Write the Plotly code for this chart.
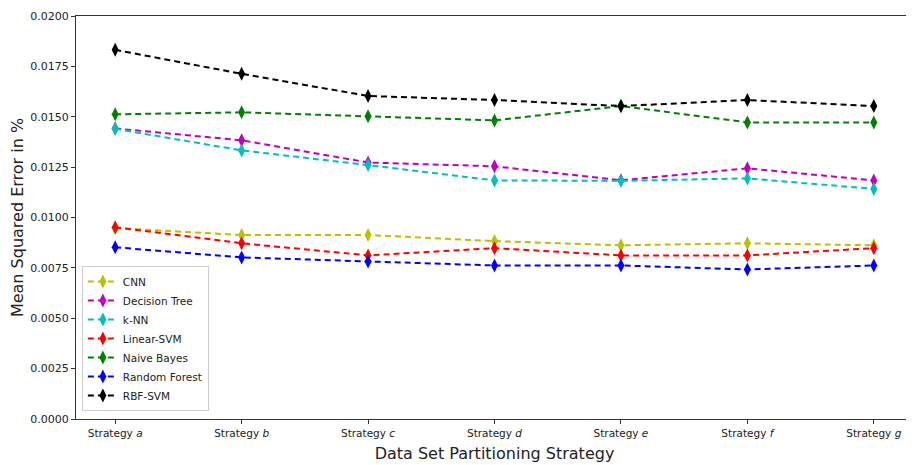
import plotly.graph_objects as go

categories = ["Strategy <i>a</i>", "Strategy <i>b</i>", "Strategy <i>c</i>", "Strategy <i>d</i>",
              "Strategy <i>e</i>", "Strategy <i>f</i>", "Strategy <i>g</i>"]

cnn = [0.00948, 0.00913, 0.00913, 0.00883, 0.00862, 0.00872, 0.00862]
decision_tree = [0.01442, 0.01383, 0.01273, 0.01254, 0.01185, 0.01244, 0.01184]
knn = [0.01440, 0.01333, 0.01260, 0.01184, 0.01182, 0.01194, 0.01142]
linear_svm = [0.00952, 0.00872, 0.00812, 0.00848, 0.00812, 0.00812, 0.00848]
naive_bayes = [0.01512, 0.01522, 0.01502, 0.01482, 0.01553, 0.01472, 0.01472]
random_forest = [0.00852, 0.00802, 0.00782, 0.00762, 0.00762, 0.00742, 0.00762]
rbf_svm = [0.01832, 0.01713, 0.01603, 0.01583, 0.01553, 0.01583, 0.01553]

series = [
    ("CNN", cnn, "#bfbf00"),
    ("Decision Tree", decision_tree, "#bf00bf"),
    ("k-NN", knn, "#00bfbf"),
    ("Linear-SVM", linear_svm, "#ff0000"),
    ("Naive Bayes", naive_bayes, "#008000"),
    ("Random Forest", random_forest, "#0000ff"),
    ("RBF-SVM", rbf_svm, "#000000"),
]

y_ticks = [0.0, 0.0025, 0.005, 0.0075, 0.01, 0.0125, 0.015, 0.0175, 0.02]

fig = go.Figure()
x_idx = list(range(len(categories)))
for name, vals, col in series:
    fig.add_trace(go.Scatter(
        x=x_idx, y=vals, name=name, mode="lines+markers",
        line=dict(color=col, width=2, dash="6px,4px"),
        marker=dict(symbol="diamond-tall", size=10, color=col),
    ))

font = "DejaVu Sans, sans-serif"
# page body has an 8px margin; figure is sized/offset to compensate
fig.update_layout(
    width=906, height=457,
    margin=dict(l=68, r=1, t=8, b=46),
    plot_bgcolor="white", paper_bgcolor="white",
    font=dict(family=font, size=11, color="#222"),
    showlegend=True,
    legend=dict(x=0.007, y=0.02, xanchor="left", yanchor="bottom",
                bgcolor="rgba(255,255,255,0.8)", bordercolor="#cccccc", borderwidth=1,
                font=dict(size=10.5, color="#222"), tracegroupgap=0, itemwidth=30),
    xaxis=dict(
        tickmode="array", tickvals=x_idx, ticktext=categories,
        range=[-0.31, 6.31], showgrid=False, zeroline=False,
        showline=True, linecolor="#333", linewidth=1, mirror=True,
        ticks="outside", ticklen=4, tickcolor="#333",
        tickfont=dict(size=10.5),
        title=dict(text="Data Set Partitioning Strategy", font=dict(size=16, color="#222"), standoff=10),
    ),
    yaxis=dict(
        tickmode="array", tickvals=y_ticks, ticktext=[f"{v:.4f}" for v in y_ticks],
        range=[0, 0.02], showgrid=False, zeroline=False,
        showline=True, linecolor="#333", linewidth=1, mirror=True,
        ticks="outside", ticklen=4, tickcolor="#333",
        title=dict(text="Mean Squared Error in %", font=dict(size=16, color="#222"), standoff=8),
    ),
)

fig.write_html("out.html")
